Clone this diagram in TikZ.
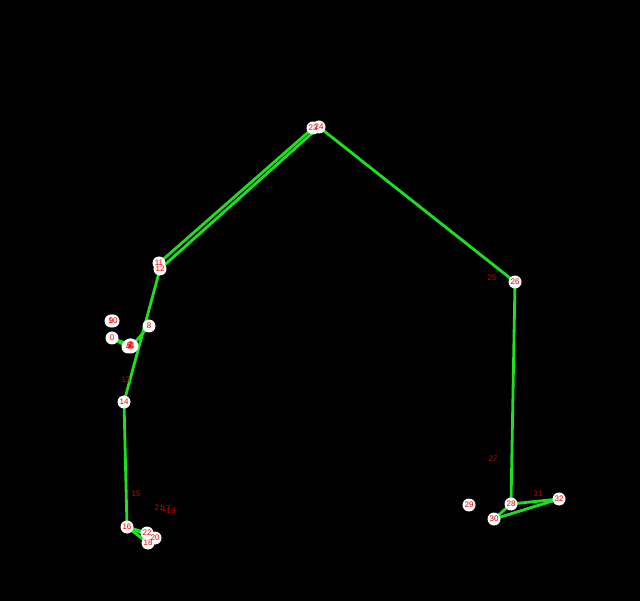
\documentclass[tikz,border=0pt]{standalone}
\usepackage{fontspec}
\setmainfont{Liberation Sans}
\definecolor{bonegreen}{RGB}{30,225,30}
\definecolor{lblred}{RGB}{240,0,0}
\definecolor{dimred}{RGB}{215,0,0}
\begin{document}
\begin{tikzpicture}[x=1pt,y=-1pt,
  bone/.style={draw=bonegreen,line width=2.8pt,line cap=round},
  joint/.style={circle,fill=white,minimum size=13pt,inner sep=0pt},
  lbl/.style={text=lblred,font=\fontsize{8}{9}\selectfont,inner sep=0pt},
  dimlbl/.style={text=dimred,font=\fontsize{8}{9}\selectfont,inner sep=0pt}]
\fill[black] (0,0) rectangle (640,601);
\useasboundingbox (0,0) rectangle (640,601);
% keypoints
\foreach \n/\x/\y in {0/112/338,1/130/345,2/131/345,3/132/346,4/128/347,5/129/346,6/131/347,7/130/346,
  8/149/326,9/111/321,10/113/321,11/159/263,12/160/269,13/126/380,14/124/402,15/136/494,16/127/527,
  17/166/509,18/148/543,19/171/511,20/155/538,21/159/508,22/147/533,23/313/128,24/319/127,
  25/492/278,26/515/282,27/493/459,28/511/504,29/469/505,30/494/519,31/538/494,32/559/499}
  \coordinate (p\n) at (\x,\y);
% connectors between visible keypoints
\foreach \a/\b in {0/1,1/2,2/3,3/7,0/4,4/5,5/6,6/8,9/10,11/12,11/23,12/24,23/24,12/14,14/16,
  16/18,16/20,16/22,18/20,24/26,26/28,28/30,28/32,30/32}
  \draw[bone] (p\a) -- (p\b);
% visible joints
\foreach \n in {0,1,2,3,4,5,6,7,8,9,10,11,12,14,16,18,20,22,23,24,26,28,29,30,32}
  \node[joint] (c\n) at (p\n) {};
% labels
\foreach \n in {0,1,2,3,4,5,6,7,8,9,10,11,12,14,16,18,20,22,23,24,26,28,29,30,32}
  \node[lbl] (t\n) at (p\n) {\n};
\foreach \n in {13,15,17,19,21,25,27,31}
  \node[dimlbl] (t\n) at (p\n) {\n};
\end{tikzpicture}
\end{document}
